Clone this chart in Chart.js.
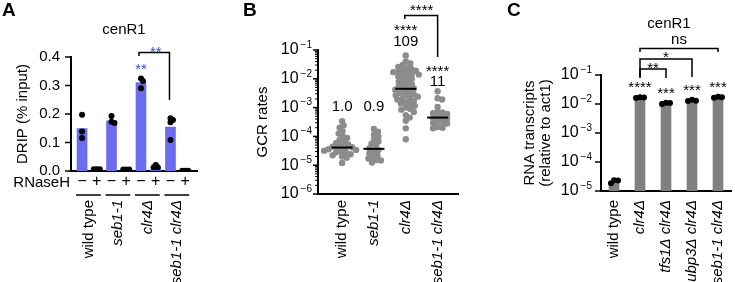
<!DOCTYPE html>
<html><head><meta charset="utf-8">
<script src="https://cdn.jsdelivr.net/npm/chart.js@4.4.1/dist/chart.umd.min.js"></script>
<style>
html,body{margin:0;padding:0;background:#fff;}
body{width:735px;height:282px;position:relative;overflow:hidden;}
canvas{position:absolute;top:0;}
</style></head><body>
<canvas id="cA" width="245" height="282" style="left:0px"></canvas>
<canvas id="cB" width="254" height="282" style="left:236px"></canvas>
<canvas id="cC" width="245" height="282" style="left:490px"></canvas>
<script>
// ---------------- Panel A : DRIP ----------------
const dripStrains = ['wild type', 'seb1-1', 'clr4Δ', 'seb1-1 clr4Δ'];
const rnaseH = ['−', '+', '−', '+', '−', '+', '−', '+'];
const dripMeans = [0.149, 0.005, 0.176, 0.005, 0.310, 0.015, 0.154, 0.002];
const dripReplicates = [
  [0.197, 0.139, 0.116],
  [0.006, 0.006, 0.006],
  [0.193, 0.168, 0.173],
  [0.005, 0.005, 0.005],
  [0.325, 0.316, 0.290],
  [0.013, 0.021, 0.013],
  [0.185, 0.179, 0.171, 0.109],
  [0.001, 0.001, 0.001]
];
const dripTicks = [0, 0.1, 0.2, 0.3, 0.4];

// ---------------- Panel B : GCR rates ----------------
const gcrStrains = ['wild type', 'seb1-1', 'clr4Δ', 'seb1-1 clr4Δ'];
const gcrWT = [3.4e-4, 2.4e-4, 2.0e-4, 1.5e-4, 1.25e-4, 1.0e-4, 8.8e-5, 7.5e-5, 6.6e-5, 5.8e-5, 5.3e-5, 4.8e-5, 4.4e-5, 4.2e-5, 4.0e-5, 3.8e-5, 3.6e-5, 3.4e-5, 3.2e-5, 3.0e-5, 2.8e-5, 2.6e-5, 2.4e-5, 2.2e-5, 2.0e-5, 1.8e-5, 1.2e-5];
const gcrSeb = [1.8e-4, 1.46e-4, 1.12e-4, 9.8e-5, 7.5e-5, 6.6e-5, 5.5e-5, 4.7e-5, 3.9e-5, 3.4e-5, 2.9e-5, 2.6e-5, 2.2e-5, 2.0e-5, 1.7e-5, 1.5e-5, 1.45e-5, 1.24e-5];
const gcrClr4 = [6.5e-2, 4.0e-2, 3.4e-2, 3.0e-2, 2.6e-2, 2.4e-2, 2.2e-2, 2.0e-2, 1.9e-2, 1.8e-2, 1.7e-2, 1.6e-2, 1.5e-2, 1.4e-2, 1.3e-2, 1.2e-2, 1.1e-2, 1.0e-2, 9.0e-3, 8.0e-3, 7.2e-3, 6.5e-3, 6.0e-3, 5.5e-3, 5.0e-3, 4.6e-3, 4.2e-3, 3.8e-3, 3.5e-3, 3.2e-3, 2.9e-3, 2.7e-3, 2.6e-3, 2.4e-3, 2.1e-3, 2.0e-3, 1.9e-3, 1.7e-3, 1.5e-3, 1.4e-3, 1.3e-3, 1.15e-3, 1.0e-3, 9e-4, 8.5e-4, 7e-4, 5.5e-4, 4.5e-4, 3.5e-4, 1.9e-4, 8e-5];
const gcrSebClr4 = [3.7e-3, 2.1e-3, 1.9e-3, 1.05e-3, 7.2e-4, 6.8e-4, 6.4e-4, 6.0e-4, 4.8e-4, 4.5e-4, 4.3e-4, 4.1e-4, 3.3e-4, 3.1e-4, 2.9e-4, 2.8e-4, 2.1e-4, 2.0e-4, 1.9e-4];
const gcrMedians = [4.1e-5, 3.7e-5, 4.5e-3, 4.5e-4];
const gcrFold = ['1.0', '0.9', '109', '11'];
const gcrStars = ['', '', '****', '****'];
const gcrTickExps = [-6, -5, -4, -3, -2, -1];

// ---------------- Panel C : RNA transcripts ----------------
const rnaStrains = ['wild type', 'clr4Δ', 'tfs1Δ clr4Δ', 'ubp3Δ clr4Δ', 'seb1-1 clr4Δ'];
const rnaMeans = [2.1e-5, 1.67e-2, 1.06e-2, 1.33e-2, 1.72e-2];
const rnaReplicates = [
  [1.85e-5, 2.3e-5, 2.35e-5],
  [1.6e-2, 1.72e-2, 1.68e-2],
  [1.0e-2, 1.1e-2, 1.08e-2],
  [1.28e-2, 1.4e-2, 1.3e-2],
  [1.65e-2, 1.78e-2, 1.72e-2]
];
const rnaStars = ['', '****', '***', '***', '***'];
const rnaComparisons = [{from: 1, to: 2, label: '**'}, {from: 1, to: 3, label: '*'}, {from: 1, to: 4, label: 'ns'}];
const rnaTickExps = [-5, -4, -3, -2, -1];

// ---------------- helpers ----------------
const FONT = '"Liberation Sans", Arial, Helvetica, sans-serif';
const BLUE = '#3350d8';
function txt(ctx, s, x, y, o = {}) {
  const {size = 15, weight = 'normal', style = 'normal', align = 'center', base = 'middle', color = '#000', rot = 0} = o;
  ctx.save();
  ctx.font = `${style} ${weight} ${size}px ${FONT}`;
  ctx.fillStyle = color; ctx.textAlign = align; ctx.textBaseline = base;
  ctx.translate(x, y); if (rot) ctx.rotate(rot);
  ctx.fillText(s, 0, 0);
  ctx.restore();
}
function line(ctx, pts, w = 1.5, color = '#000') {
  ctx.save(); ctx.strokeStyle = color; ctx.lineWidth = w; ctx.lineCap = 'butt';
  ctx.beginPath();
  pts.forEach((p, i) => i ? ctx.lineTo(p[0], p[1]) : ctx.moveTo(p[0], p[1]));
  ctx.stroke(); ctx.restore();
}
function logLabel(ctx, exp, right, y, size = 16, sup = 10) {
  ctx.save(); ctx.fillStyle = '#000'; ctx.textBaseline = 'middle'; ctx.textAlign = 'right';
  const s = '−' + Math.abs(exp);
  ctx.font = `${sup}px ${FONT}`; ctx.fillText(s, right, y - 5);
  const w = ctx.measureText(s).width;
  ctx.font = `${size}px ${FONT}`; ctx.fillText('10', right - w - 2, y);
  ctx.restore();
}
function beeswarm(pys, diam) {
  const idx = pys.map((_, i) => i).sort((a, b) => pys[a] - pys[b]);
  const placed = [], off = new Array(pys.length).fill(0);
  for (const i of idx) {
    const y = pys[i];
    let best = 0;
    for (let k = 0; k < 400; k++) {
      const c = (k % 2 === 1 ? 1 : -1) * Math.ceil(k / 2) * 0.5;
      let ok = true;
      for (const p of placed) {
        const dx = p.x - c, dy = p.y - y;
        if (dx * dx + dy * dy < diam * diam - 0.01) { ok = false; break; }
      }
      if (ok) { best = c; break; }
    }
    off[i] = best; placed.push({x: best, y});
  }
  return off;
}
function applySwarm(chart, dsIdx, groups, diam) {
  const xs = chart.scales.x, ys = chart.scales.y;
  const unit = xs.getPixelForValue(1) - xs.getPixelForValue(0);
  const data = [];
  groups.forEach((vals, g) => {
    const off = beeswarm(vals.map(v => ys.getPixelForValue(v)), diam);
    vals.forEach((v, i) => data.push({x: g + off[i] / unit, y: v}));
  });
  chart.data.datasets[dsIdx].data = data;
  chart.update('none');
}
const flat = groups => groups.flatMap((vals, g) => vals.map(v => ({x: g, y: v})));
function axisX(min, max, h) {
  return {type: 'linear', min, max, offset: false, ticks: {display: false}, grid: {display: false},
    border: {display: true, color: '#000', width: 2}, afterFit: s => { s.height = h; }};
}
function axisY(type, min, max, w) {
  return {type, min, max, ticks: {display: false}, grid: {display: false},
    border: {display: true, color: '#000', width: 2}, afterFit: s => { s.width = w; }};
}
const baseOpts = {responsive: false, animation: false, events: [],
  plugins: {legend: {display: false}, tooltip: {enabled: false}, title: {display: false}}};

// ---------------- Panel A chart ----------------
const plugA = {id: 'pA', afterDraw(chart) {
  const ctx = chart.ctx, xs = chart.scales.x, ys = chart.scales.y;
  const px = v => xs.getPixelForValue(v), py = v => ys.getPixelForValue(v);
  const L = chart.chartArea.left;
  dripTicks.forEach(v => { line(ctx, [[L - 6, py(v)], [L, py(v)]], 1.5); txt(ctx, v.toFixed(1), L - 11, py(v), {align: 'right'}); });
  txt(ctx, 'DRIP (% input)', 23, (py(0) + py(0.4)) / 2, {rot: -Math.PI / 2});
  txt(ctx, 'cenR1', 124, 30);
  txt(ctx, 'A', 2, 11, {size: 19, weight: 'bold', align: 'left'});
  txt(ctx, 'RNaseH', L - 1, 183, {align: 'right'});
  rnaseH.forEach((s, i) => txt(ctx, s, px(i), 182, {size: 16}));
  dripStrains.forEach((s, g) => {
    const a = px(2 * g), b = px(2 * g + 1);
    line(ctx, [[a - 6, 195], [b + 4, 195]], 1.5);
    txt(ctx, s, (a + b) / 2 - 1, 200, {rot: -Math.PI / 2, align: 'right', style: g ? 'italic' : 'normal'});
  });
  txt(ctx, '**', px(4), 70, {color: BLUE});
  line(ctx, [[px(4) - 2, 56], [px(4) - 2, 52.5], [px(6) - 1, 52.5], [px(6) - 1, 100]], 1.5);
  txt(ctx, '**', (px(4) + px(6)) / 2, 53, {color: BLUE});
}};
const chartA = new Chart(document.getElementById('cA'), {
  type: 'bar',
  data: {datasets: [
    {type: 'bar', data: dripMeans.map((v, i) => ({x: i, y: v})), backgroundColor: '#6b6cf0', barThickness: 10, order: 1},
    {type: 'scatter', data: flat(dripReplicates), pointRadius: 3, backgroundColor: '#000', borderWidth: 0, order: 0}
  ]},
  options: {...baseOpts, layout: {padding: {top: 57, right: 48, left: 0, bottom: 0}},
    scales: {x: axisX(-0.75, 7.8, 111), y: axisY('linear', 0, 0.4, 71)}},
  plugins: [plugA]
});
applySwarm(chartA, 1, dripReplicates, 3);

// ---------------- Panel B chart ----------------
const OB = 236;
const gcrGroups = [gcrWT, gcrSeb, gcrClr4, gcrSebClr4];
const plugB = {id: 'pB', afterDraw(chart) {
  const ctx = chart.ctx, xs = chart.scales.x, ys = chart.scales.y;
  ctx.save(); ctx.translate(-OB, 0);
  const px = v => xs.getPixelForValue(v) + OB, py = v => ys.getPixelForValue(v);
  const L = chart.chartArea.left + OB;
  gcrTickExps.forEach(e => {
    const y = py(Math.pow(10, e));
    line(ctx, [[L - 5, y], [L, y]], 1.5);
    logLabel(ctx, e, L - 6, y, 16, 10);
    if (e < -1) for (let k = 2; k <= 9; k++) { const yy = py(k * Math.pow(10, e)); line(ctx, [[L - 3, yy], [L, yy]], 1); }
  });
  txt(ctx, 'GCR rates', 263, (py(1e-6) + py(1e-1)) / 2, {rot: -Math.PI / 2});
  txt(ctx, 'B', 243, 11, {size: 19, weight: 'bold', align: 'left'});
  const foldY = [107, 107, 42, 82], starY = [0, 0, 31, 72];
  gcrStrains.forEach((s, g) => {
    txt(ctx, s, px(g), 200, {rot: -Math.PI / 2, align: 'right', style: g ? 'italic' : 'normal'});
    txt(ctx, gcrFold[g], px(g), foldY[g]);
    if (gcrStars[g]) txt(ctx, gcrStars[g], px(g), starY[g]);
  });
  line(ctx, [[px(2) - 1, 19], [px(2) - 1, 15.5], [px(3), 15.5], [px(3), 57]], 1.5);
  txt(ctx, '****', (px(2) + px(3)) / 2, 11);
  ctx.restore();
}};
const chartB = new Chart(document.getElementById('cB'), {
  type: 'scatter',
  data: {datasets: [
    {data: gcrMedians.map((v, g) => ({x: g, y: v})), pointStyle: 'line', pointRadius: 10.5, borderWidth: 2, borderColor: '#000', order: 0},
    {data: flat(gcrGroups), pointRadius: 3.2, backgroundColor: '#8c8c8c', borderWidth: 0, order: 1}
  ]},
  options: {...baseOpts, layout: {padding: {top: 50, right: 32, left: 0, bottom: 0}},
    scales: {x: axisX(-0.757, 3.64, 88), y: axisY('logarithmic', 1e-6, 1e-1, 82)}},
  plugins: [plugB]
});
applySwarm(chartB, 1, gcrGroups, 4.6);

// ---------------- Panel C chart ----------------
const OC = 490;
const plugC = {id: 'pC', afterDraw(chart) {
  const ctx = chart.ctx, xs = chart.scales.x, ys = chart.scales.y;
  ctx.save(); ctx.translate(-OC, 0);
  const px = v => xs.getPixelForValue(v) + OC, py = v => ys.getPixelForValue(v);
  const L = chart.chartArea.left + OC;
  rnaTickExps.forEach(e => {
    const y = py(Math.pow(10, e));
    line(ctx, [[L - 6, y], [L, y]], 1.5);
    logLabel(ctx, e, L - 9, y, 16, 10);
  });
  const cy = (py(1e-5) + py(1e-1)) / 2;
  txt(ctx, 'RNA transcripts', 530, cy, {rot: -Math.PI / 2});
  txt(ctx, '(relative to act1)', 546, cy, {rot: -Math.PI / 2});
  txt(ctx, 'cenR1', 669, 24);
  txt(ctx, 'C', 507, 11, {size: 19, weight: 'bold', align: 'left'});
  rnaStrains.forEach((s, g) => {
    txt(ctx, s, px(g), 200, {rot: -Math.PI / 2, align: 'right', style: g ? 'italic' : 'normal'});
    if (rnaStars[g]) txt(ctx, rnaStars[g], px(g), py(Math.max(...rnaReplicates[g])) - 9);
  });
  const barY = [69, 59, 48.5], armY = [78, 77, 52], labY = [69, 58, 40];
  rnaComparisons.forEach((c, i) => {
    const a = px(c.from), b = px(c.to);
    line(ctx, [[a, armY[i]], [a, barY[i]], [b, barY[i]], [b, armY[i]]], 1.5);
    txt(ctx, c.label, (a + b) / 2, labY[i]);
  });
  ctx.restore();
}};
const chartC = new Chart(document.getElementById('cC'), {
  type: 'bar',
  data: {datasets: [
    {type: 'bar', data: rnaMeans.map((v, i) => ({x: i, y: v})), backgroundColor: '#808080', barThickness: 10, order: 1},
    {type: 'scatter', data: flat(rnaReplicates), pointRadius: 3, backgroundColor: '#000', borderWidth: 0, order: 0}
  ]},
  options: {...baseOpts, layout: {padding: {top: 75, right: 2, left: 0, bottom: 0}},
    scales: {x: axisX(-0.5, 4.5, 91), y: axisY('logarithmic', 1e-5, 1e-1, 111)}},
  plugins: [plugC]
});
applySwarm(chartC, 1, rnaReplicates, 4);
</script>
</body></html>
